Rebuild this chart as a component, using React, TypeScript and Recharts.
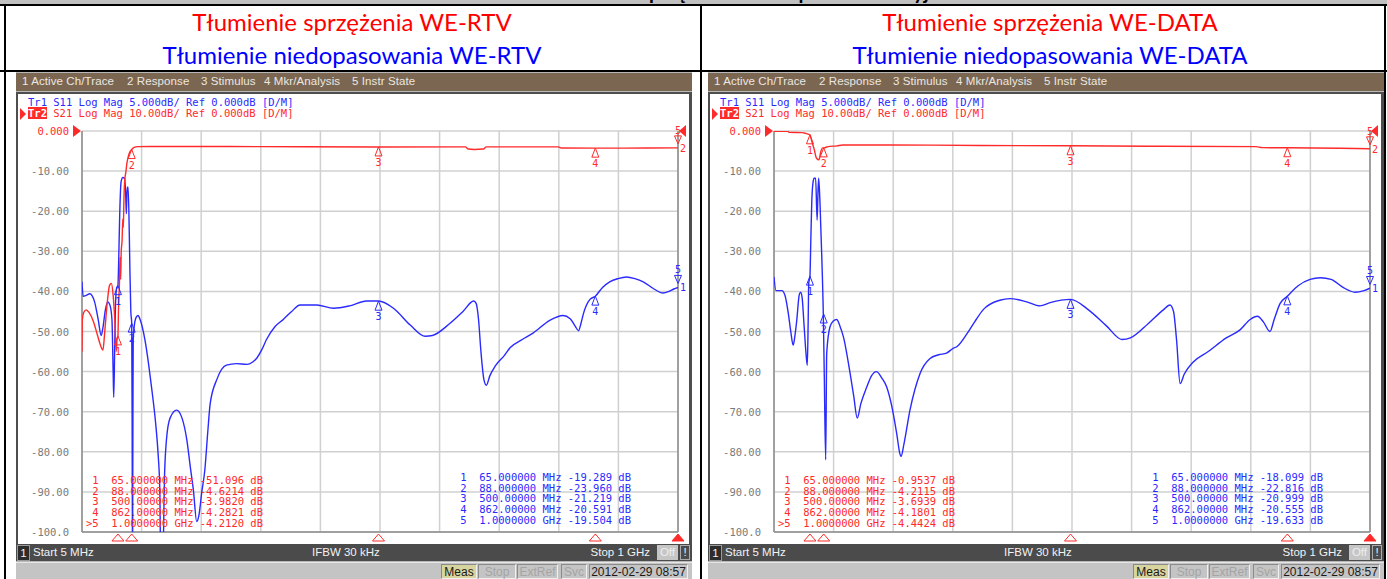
import React from 'react'
import { LineChart, Line, XAxis, YAxis, CartesianGrid, ReferenceDot, ReferenceLine } from 'recharts'

// grid: 10 divisions from 5 MHz to 1 GHz, 10 dB/div for the grid (Tr2 scale)
const freqTicks = [5, 104.5, 204, 303.5, 403, 502.5, 602, 701.5, 801, 900.5, 1000]
const levelTicks = [0, -10, -20, -30, -40, -50, -60, -70, -80, -90, -100]
const levelLabels = ['0.000', '-10.00', '-20.00', '-30.00', '-40.00', '-50.00', '-60.00', '-70.00', '-80.00', '-90.00', '-100.0']

// Tr1 (S11) is drawn at 5 dB/div on the 10 dB/div grid
const S11_SCALE = 2

const markerFreqs = [65, 88, 500, 862, 1000]
const markerFreqLabels = ['65.000000 MHz', '88.000000 MHz', '500.00000 MHz', '862.00000 MHz', '1.0000000 GHz']

// WE-RTV
const rtvS21: [number, number][] = [
  [5, -55], [5.5, -47], [8, -45.2], [12, -44.6], [17, -45.3], [24, -47.5], [31, -51], [36, -53.5], [40, -54.6],
  [43, -50], [47, -43], [51, -38.5], [54, -38], [57, -41], [60, -48], [62, -55], [63.5, -52], [65, -51.1],
  [66, -44], [67.5, -38], [68.5, -31.5], [69.5, -37], [70.5, -30], [72, -27], [73, -22], [74, -24], [75, -17],
  [76.5, -12], [78, -10.5], [80, -8], [82, -6.5], [85, -5.2], [88, -4.62], [92, -4.1], [98, -3.9], [120, -3.85],
  [300, -3.9], [500, -3.98], [645, -3.95], [650, -4.5], [660, -4.6], [675, -4.5], [680, -3.95], [800, -3.95],
  [805, -4.25], [862, -4.28], [950, -4.25], [1000, -4.21],
]
const rtvS11: [number, number][] = [
  [5, -18.8], [7, -20.6], [12, -20.5], [18, -20.3], [26, -21.3], [32, -23.5], [37, -25.5], [40, -24.5], [44, -22.3],
  [48, -21.3], [52, -21.8], [55, -23.5], [57, -30], [58, -33.2], [59.5, -27.5], [61, -21.5], [63, -19.5], [65, -19.3],
  [66, -17], [68, -10.3], [70, -6.5], [71, -6.1], [73, -5.8], [76, -5.9], [78, -8], [79, -10.3], [80.5, -7], [82, -7],
  [84, -13], [85, -17.4], [86.5, -22.5], [88, -24], [88.7, -36], [89.3, -55], [90, -36], [90.5, -26], [92, -24.5],
  [95, -23.3], [98.5, -23], [102, -23.5], [110, -26], [121, -31.9], [128, -36.5], [132, -40.2], [135, -45],
  [136.5, -55], [139.5, -55], [143, -42.5], [146, -38.5], [152, -35.8], [163, -34.8], [172, -35.8], [180, -38.5],
  [186, -42], [191, -44.8], [196.5, -48.7], [200, -48], [205, -45], [210, -42.3], [215, -37.5], [219, -34],
  [230, -31], [246, -29.2], [263, -29], [280, -29.1], [290, -28.8], [297, -28.3], [305, -27.3], [313, -26],
  [327, -24.4], [341, -23.5], [355, -22.5], [369, -21.7], [397, -21.7], [425, -22.1], [452, -21.8], [480, -21.2],
  [500, -21.2], [525, -22.1], [553, -24.2], [578, -25.6], [590, -25.5], [619, -24], [641, -22.5], [659, -21.2],
  [663, -21.5], [667, -23.5], [671, -27.5], [676, -31], [680, -31.7], [686, -30.5], [695, -29.3], [710, -28],
  [720, -27], [740, -26], [758, -25.2], [786, -23.6], [808, -23], [820, -23.4], [828, -24.3], [834, -24.9],
  [838, -24], [842, -22.8], [853, -21], [862, -20.6], [874, -19.5], [886, -18.8], [900, -18.4], [914, -18.2],
  [928, -18.4], [942, -18.8], [960, -19.7], [975, -20.2], [985, -20], [993, -19.7], [1000, -19.5],
]
const rtvS21Marks = [-51.096, -4.6214, -3.982, -4.2821, -4.212]
const rtvS11Marks = [-19.289, -23.96, -21.219, -20.591, -19.504]

// WE-DATA
const dataS21: [number, number][] = [
  [5, -0.05], [28, -0.1], [30, -0.35], [52, -0.4], [58, -0.6], [62, -0.8], [65, -0.95], [68, -2.5], [72, -4.5],
  [76, -6.8], [80, -7.2], [83, -5.2], [86, -4.2], [88, -4.21], [95, -3.9], [110, -3.7], [120, -3.5], [200, -3.5],
  [350, -3.6], [500, -3.69], [650, -3.8], [810, -3.9], [820, -4.15], [862, -4.18], [950, -4.3], [1000, -4.44],
]
const dataS11: [number, number][] = [
  [5, -18.2], [8.3, -19.9], [18, -19.9], [23.4, -20.5], [29, -22.8], [33, -25], [37, -26.7], [40, -25.5],
  [43, -23.6], [47, -20.5], [49.5, -20.1], [52, -20.8], [55, -24], [58.4, -27.7], [60.6, -29.2], [62, -24],
  [63, -19], [65, -18.1], [66.5, -13.5], [68, -9], [70, -6.5], [72, -5.9], [74.5, -5.9], [77, -11.1], [78.5, -7.5],
  [79.6, -5.9], [81.8, -9], [84.6, -15.3], [87.3, -22.8], [89, -30.7], [91.3, -41], [93, -27.7], [98.5, -24.4],
  [104, -23.7], [109.7, -23.5], [115, -24.3], [121, -25.7], [132, -30.2], [138, -33], [144, -35.8], [150, -34],
  [160, -31.9], [168, -30.5], [176, -30], [185, -30.8], [193, -31.9], [204, -35.2], [210, -37.8], [215, -40.2],
  [217, -40.6], [222, -39], [232, -34.8], [240, -32.3], [249, -30.2], [265, -28.4], [280, -27.9], [293, -27.7],
  [304, -27.1], [310, -26.9], [327, -25.3], [340, -23.8], [354, -22.3], [382, -21.1], [399, -20.9], [427, -21.3],
  [449, -21.8], [466, -21.4], [500, -21], [530, -22.3], [560, -24.3], [586, -26], [600, -25.8], [630, -24],
  [655, -22.3], [666, -21.7], [672, -22.5], [677, -26], [683, -31.5], [690, -30.3], [705, -28.8], [730, -27.5],
  [760, -25.8], [783, -24.8], [800, -23.5], [812, -23.1], [822, -23.8], [833, -25], [840, -23.5], [850, -21.5],
  [862, -20.6], [880, -19.3], [900, -18.5], [917, -18.3], [935, -18.5], [955, -19.5], [975, -20.1], [990, -19.9],
  [1000, -19.6],
]
const dataS21Marks = [-0.9537, -4.2115, -3.6939, -4.1801, -4.4424]
const dataS11Marks = [-18.099, -22.816, -20.999, -20.555, -19.633]

const RED = '#ff2a2a'
const BLUE = '#2a2aff'
const MONO = '"DejaVu Sans Mono", "Liberation Mono", monospace'
const SANS = '"Liberation Sans", Arial, sans-serif'

const fmt = (v: number) => (Math.abs(v) < 10 ? v.toFixed(4) : v.toFixed(3))

const tableLines = (marks: number[], active: boolean) =>
  marks.map((v, i) => (active && i === 4 ? '>5' : ' ' + (i + 1)) + '  ' + markerFreqLabels[i] + ' ' + fmt(v) + ' dB')

const LevelTick = (props: any) => {
  const { x, y, payload } = props
  if (payload.value === 0) {
    return (
      <g>
        <text x={x} y={y} dy={4} textAnchor="end" fill={RED} fontSize={10.5} fontFamily={MONO}>0.000</text>
        <path d={`M${x + 4},${y - 6} L${x + 12},${y} L${x + 4},${y + 6} Z`} fill={RED} />
      </g>
    )
  }
  return (
    <text x={x} y={y} dy={4} textAnchor="end" fill="#7a7a7a" fontSize={10.5} fontFamily={MONO}>
      {levelLabels[levelTicks.indexOf(payload.value)]}
    </text>
  )
}

const markerShape = (color: string, num: number, active: boolean, trace: number) => (props: any) => {
  const { cx, cy } = props
  if (active) {
    return (
      <g>
        <path d={`M${cx},${cy - 4} L${cx - 3.5},${cy - 12} L${cx + 3.5},${cy - 12} Z`} fill="none" stroke={color} strokeWidth={1} />
        <text x={cx} y={cy - 14} textAnchor="middle" fill={color} fontSize={10} fontFamily={MONO}>{num}</text>
        <text x={cx + 2} y={cy + 4} fill={color} fontSize={10} fontFamily={MONO}>{trace}</text>
      </g>
    )
  }
  return (
    <g>
      <path d={`M${cx},${cy} L${cx - 3.5},${cy + 9} L${cx + 3.5},${cy + 9} Z`} fill="none" stroke={color} strokeWidth={1} />
      <text x={cx} y={cy + 19} textAnchor="middle" fill={color} fontSize={10} fontFamily={MONO}>{num}</text>
    </g>
  )
}

const stimulusShape = (active: boolean) => (props: any) => {
  const { cx, cy } = props
  return <path d={`M${cx},${cy + 2} L${cx - 6},${cy + 9} L${cx + 6},${cy + 9} Z`} fill={active ? RED : 'none'} stroke={RED} strokeWidth={1} />
}

const refShape = (props: any) => {
  const { cx, cy } = props
  return <path d={`M${cx + 1},${cy} L${cx + 8},${cy - 6} L${cx + 8},${cy + 6} Z`} fill={RED} />
}

const menuItems: [string, number][] = [
  ['1 Active Ch/Trace', 6], ['2 Response', 111], ['3 Stimulus', 185], ['4 Mkr/Analysis', 248], ['5 Instr State', 336],
]

const statusBoxes: [string, number, number, string, string][] = [
  ['Meas', 425, 36, '#d8d49e', '#1a1a1a'],
  ['Stop', 462, 38, '#c4c4c4', '#a4a4a4'],
  ['ExtRef', 501, 41, '#c4c4c4', '#a4a4a4'],
  ['Svc', 545, 26, '#c4c4c4', '#a4a4a4'],
  ['2012-02-29 08:57', 573, 99, '#c4c4c4', '#1a1a1a'],
]

interface PanelProps {
  left: number
  s21: [number, number][]
  s11: [number, number][]
  s21Marks: number[]
  s11Marks: number[]
}

function Panel({ left, s21, s11, s21Marks, s11Marks }: PanelProps) {
  const s21Rows = s21.map(([f, v]) => ({ f, v }))
  const s11Rows = s11.map(([f, v]) => ({ f, v: v * S11_SCALE }))
  const redLines = tableLines(s21Marks, true)
  const blueLines = tableLines(s11Marks, false)
  return (
    <div style={{ position: 'absolute', left, top: 72, width: 676, height: 507, background: '#b8b8b8' }}>
      <div style={{ position: 'absolute', left: 0, top: 1, width: 676, height: 18, background: '#7b6651' }}>
        {menuItems.map(([t, x]) => (
          <div key={t} style={{ position: 'absolute', left: x, top: 2, fontFamily: SANS, fontSize: 11.5, color: '#ece8e2', letterSpacing: 0.1, whiteSpace: 'pre' }}>{t}</div>
        ))}
      </div>
      <div style={{ position: 'absolute', left: 0, top: 20, width: 671, height: 451, background: '#fff', borderLeft: '2px solid #4e4e4e', borderTop: '2px solid #4e4e4e', borderRight: '3px solid #4e4e4e' }} />
      <div style={{ position: 'absolute', left: 12, top: 25, fontFamily: MONO, fontSize: 10.5, lineHeight: '11px', color: BLUE, whiteSpace: 'pre' }}>
        Tr1 S11 Log Mag 5.000dB/ Ref 0.000dB [D/M]
      </div>
      <div style={{ position: 'absolute', left: 12, top: 36, fontFamily: MONO, fontSize: 10.5, lineHeight: '11px', color: RED, whiteSpace: 'pre' }}>
        <span style={{ background: RED, color: '#fff', fontWeight: 'bold' }}>Tr2</span> S21 Log Mag 10.00dB/ Ref 0.000dB [D/M]
      </div>
      <svg style={{ position: 'absolute', left: 3, top: 36 }} width={8} height={12}>
        <path d="M1,0 L7,6 L1,12 Z" fill={RED} />
      </svg>
      <div style={{ position: 'absolute', left: 0, top: 0 }}>
        <LineChart width={676} height={473} margin={{ top: 59, right: 14, bottom: 13, left: 0 }}>
          <CartesianGrid stroke="#d0d0d0" strokeWidth={1.5} verticalValues={freqTicks} horizontalValues={levelTicks} />
          <XAxis dataKey="f" type="number" domain={[5, 1000]} ticks={freqTicks} hide allowDataOverflow />
          <YAxis type="number" domain={[-100, 0]} ticks={levelTicks} width={66} tickLine={false} axisLine={false} tickSize={0} tickMargin={13} tick={<LevelTick />} allowDataOverflow interval={0} />
          <ReferenceLine x={5} stroke="#8c8c8c" strokeWidth={1.5} />
          <ReferenceLine x={1000} stroke="#8c8c8c" strokeWidth={1.5} />
          <ReferenceLine y={-100} stroke="#8c8c8c" strokeWidth={1.5} />
          <Line data={s11Rows} dataKey="v" type="monotone" stroke={BLUE} strokeWidth={1.4} dot={false} isAnimationActive={false} />
          <Line data={s21Rows} dataKey="v" type="monotone" stroke={RED} strokeWidth={1.4} dot={false} isAnimationActive={false} />
          {markerFreqs.map((f, i) => (
            <ReferenceDot key={'r' + f} x={f} y={s21Marks[i]} ifOverflow="visible" shape={markerShape(RED, i + 1, i === 4, 2)} />
          ))}
          {markerFreqs.map((f, i) => (
            <ReferenceDot key={'b' + f} x={f} y={s11Marks[i] * S11_SCALE} ifOverflow="visible" shape={markerShape(BLUE, i + 1, i === 4, 1)} />
          ))}
          {markerFreqs.map((f, i) => (
            <ReferenceDot key={'s' + f} x={f} y={-100} ifOverflow="visible" shape={stimulusShape(i === 4)} />
          ))}
          <ReferenceDot x={1000} y={0} ifOverflow="visible" shape={refShape} />
        </LineChart>
      </div>
      <div style={{ position: 'absolute', left: 70, top: 403, fontFamily: MONO, fontSize: 10.5, lineHeight: '10.65px', color: RED, whiteSpace: 'pre' }}>
        {redLines.map((l) => <div key={l}>{l}</div>)}
      </div>
      <div style={{ position: 'absolute', left: 438, top: 400, fontFamily: MONO, fontSize: 10.5, lineHeight: '10.65px', color: BLUE, whiteSpace: 'pre' }}>
        {blueLines.map((l) => <div key={l}>{l}</div>)}
      </div>
      <div style={{ position: 'absolute', left: 0, top: 472, width: 676, height: 17, background: '#4b4b4b', fontFamily: SANS, fontSize: 11.5, color: '#f2f2f2' }}>
        <div style={{ position: 'absolute', left: 1, top: 1, width: 11, height: 14, background: '#2c2c2c', border: '1px solid #9a9a9a', textAlign: 'center', lineHeight: '14px' }}>1</div>
        <div style={{ position: 'absolute', left: 17, top: 2 }}>Start 5 MHz</div>
        <div style={{ position: 'absolute', left: 296, top: 2 }}>IFBW 30 kHz</div>
        <div style={{ position: 'absolute', right: 42, top: 2 }}>Stop 1 GHz</div>
        <div style={{ position: 'absolute', left: 641, top: 1, width: 21, height: 15, background: '#c6c6c6', color: '#eeeeee', textAlign: 'center', lineHeight: '15px' }}>Off</div>
        <div style={{ position: 'absolute', left: 664, top: 1, width: 8, height: 13, border: '1px solid #aaaaaa', textAlign: 'center', lineHeight: '13px' }}>!</div>
      </div>
      <div style={{ position: 'absolute', left: 0, top: 490, width: 676, height: 17, background: '#c4c4c4', borderTop: '1px solid #e6e6e6' }}>
        {statusBoxes.map(([t, x, w, bg, fg]) => (
          <div key={t} style={{ position: 'absolute', left: x, top: 1, width: w, height: 15, background: bg, color: fg, fontFamily: SANS, fontSize: 12, lineHeight: '15px', textAlign: 'center', boxSizing: 'border-box', borderTop: '1px solid #8a8a8a', borderLeft: '1px solid #8a8a8a', borderRight: '1px solid #f0f0f0', borderBottom: '1px solid #f0f0f0' }}>{t}</div>
        ))}
      </div>
    </div>
  )
}

const TITLE = 'Lato, "Open Sans", sans-serif'

export default function App() {
  return (
    <div style={{ position: 'fixed', left: 0, top: 0, width: 1387, height: 579, background: '#fff', overflow: 'hidden', fontFamily: SANS }}>
      <div style={{ position: 'absolute', left: 0, top: 0, width: 1387, height: 4, background: '#c0c0c0', overflow: 'hidden' }}>
        <div style={{ position: 'absolute', left: 0, width: 1387, top: -19, textAlign: 'center', fontFamily: TITLE, fontWeight: 'bold', fontSize: 20, lineHeight: '20px' }}>
          Porównanie tłumienia sprzężenia i niedopasowania wyjść
        </div>
      </div>
      <div style={{ position: 'absolute', left: 0, top: 4, width: 1387, height: 2, background: '#000' }} />
      <div style={{ position: 'absolute', left: 0, top: 70, width: 1387, height: 2, background: '#000' }} />
      <div style={{ position: 'absolute', left: 4, top: 4, width: 2, height: 575, background: '#000' }} />
      <div style={{ position: 'absolute', left: 700, top: 4, width: 2, height: 575, background: '#000' }} />
      <div style={{ position: 'absolute', left: 1384, top: 4, width: 2, height: 575, background: '#000' }} />

      <div style={{ position: 'absolute', left: 352, top: 7, transform: 'translateX(-50%)', whiteSpace: 'nowrap', fontFamily: TITLE, fontSize: 24, lineHeight: '30px', color: '#ff0000' }}>Tłumienie sprzężenia WE-RTV</div>
      <div style={{ position: 'absolute', left: 352, top: 40, transform: 'translateX(-50%)', whiteSpace: 'nowrap', fontFamily: TITLE, fontSize: 24, lineHeight: '30px', color: '#0000ff' }}>Tłumienie niedopasowania WE-RTV</div>
      <div style={{ position: 'absolute', left: 1050, top: 7, transform: 'translateX(-50%)', whiteSpace: 'nowrap', fontFamily: TITLE, fontSize: 24, lineHeight: '30px', color: '#ff0000' }}>Tłumienie sprzężenia WE-DATA</div>
      <div style={{ position: 'absolute', left: 1050, top: 40, transform: 'translateX(-50%)', whiteSpace: 'nowrap', fontFamily: TITLE, fontSize: 24, lineHeight: '30px', color: '#0000ff' }}>Tłumienie niedopasowania WE-DATA</div>

      <Panel left={16} s21={rtvS21} s11={rtvS11} s21Marks={rtvS21Marks} s11Marks={rtvS11Marks} />
      <Panel left={708} s21={dataS21} s11={dataS11} s21Marks={dataS21Marks} s11Marks={dataS11Marks} />
    </div>
  )
}
